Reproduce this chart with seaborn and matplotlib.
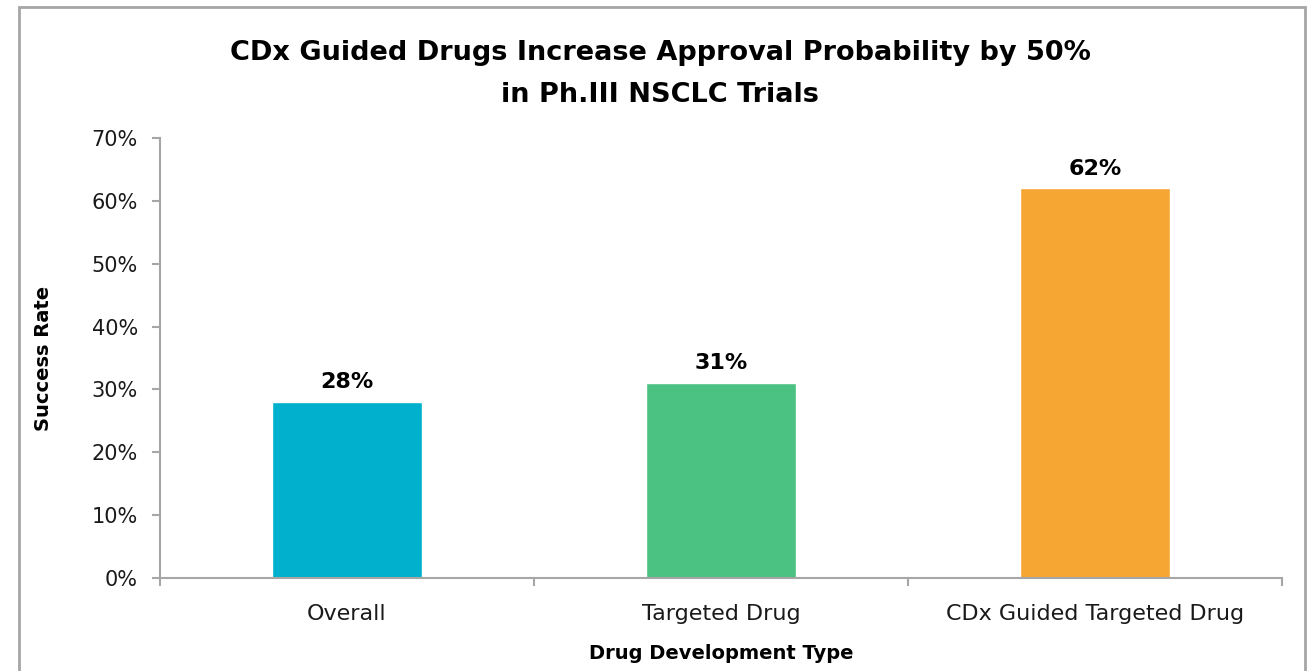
import pandas as pd
import matplotlib.pyplot as plt
import matplotlib.patches as mpatches
from matplotlib.ticker import FuncFormatter, FixedLocator
import seaborn as sns

# data
categories = ["Overall", "Targeted Drug", "CDx Guided Targeted Drug"]
success_rate = [28, 31, 62]
bar_colors = ["#00B0CC", "#4BC182", "#F6A633"]

df = pd.DataFrame({"Type": categories, "Rate": success_rate})

sns.set_theme(style="white")
plt.rcParams["font.family"] = ["DejaVu Sans"]

fig = plt.figure(figsize=(13.11, 6.71), dpi=100)
ax = fig.add_axes([160 / 1311, 1 - 578 / 671, (1282 - 160) / 1311, (578 - 138) / 671])

sns.barplot(data=df, x="Type", y="Rate", hue="Type",
            palette=dict(zip(categories, bar_colors)), legend=False,
            width=0.4, saturation=1, ax=ax)

ax.set_ylim(0, 70)
ax.set_xlim(-0.5, 2.5)
ax.set_yticks(range(0, 71, 10))
ax.yaxis.set_major_formatter(FuncFormatter(lambda v, p: f"{v:.0f}%"))

# value labels
for i, v in enumerate(success_rate):
    ax.annotate(f"{v}%", (i, v), xytext=(0, 7), textcoords="offset points",
                ha="center", va="bottom", fontsize=16, fontweight="bold", color="black")

# axis styling
for s in ["top", "right"]:
    ax.spines[s].set_visible(False)
for s in ["left", "bottom"]:
    ax.spines[s].set_color("#A6A6A6")
    ax.spines[s].set_linewidth(1.5)

ax.tick_params(axis="y", which="major", left=True, length=6, width=1.5, color="#A6A6A6",
               labelsize=15, pad=10, labelcolor="#1a1a1a")
ax.tick_params(axis="x", which="major", length=0, labelsize=16, pad=19, labelcolor="#1a1a1a")
ax.xaxis.set_minor_locator(FixedLocator([-0.5, 0.5, 1.5, 2.5]))
ax.tick_params(axis="x", which="minor", bottom=True, length=6, width=1.5, color="#A6A6A6")

ax.set_xlabel("Drug Development Type", fontsize=14, fontweight="bold", labelpad=14, color="black")
ax.set_ylabel("Success Rate", fontsize=14, fontweight="bold", labelpad=28, color="black")

fig.suptitle("CDx Guided Drugs Increase Approval Probability by 50%\nin Ph.III NSCLC Trials",
             x=660 / 1311, y=1 - 40 / 671, fontsize=19.5, fontweight="bold",
             linespacing=1.8, color="black")

# outer chart frame
frame = mpatches.Rectangle((19 / 1311, -0.05), (1305 - 19) / 1311, 1 - 7 / 671 + 0.05,
                           transform=fig.transFigure, fill=False, edgecolor="#A6A6A6",
                           linewidth=2, zorder=0)
fig.patches.append(frame)

fig.savefig("out.png", dpi=100)
